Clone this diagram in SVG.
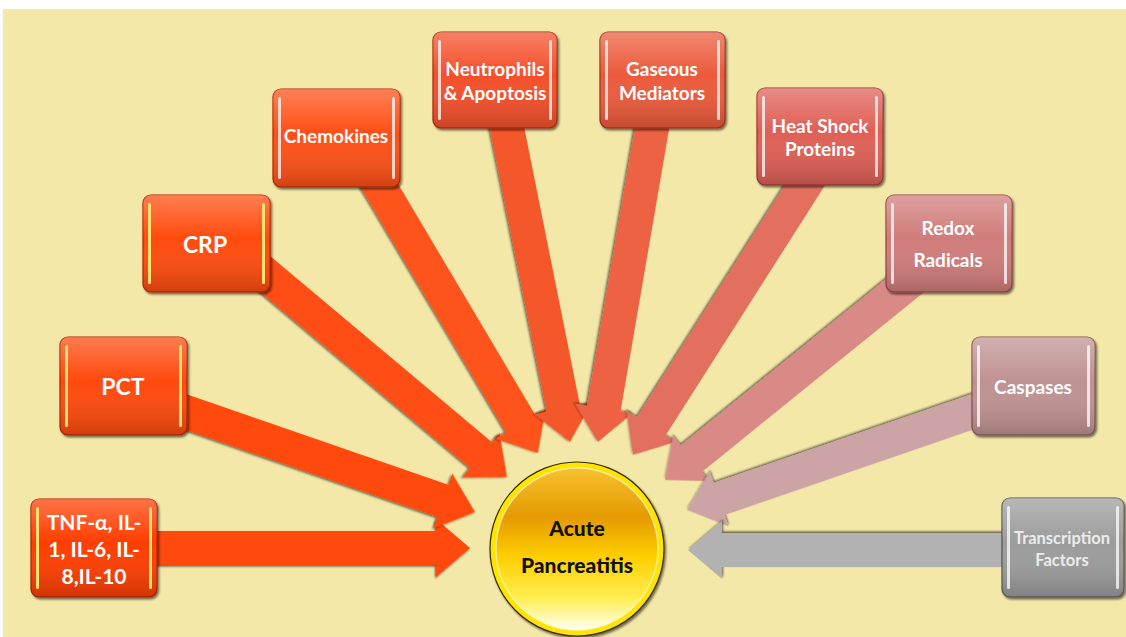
<svg xmlns="http://www.w3.org/2000/svg" width="1126" height="637" viewBox="0 0 1126 637">
<defs>
<style>
.lbl{font-family:Lato,"Open Sans","Liberation Sans",sans-serif;font-weight:bold;fill:#fff;text-anchor:middle}
.ctr{font-family:Lato,"Open Sans","Liberation Sans",sans-serif;font-weight:900;fill:#111;text-anchor:middle;font-size:21px}
.box{stroke-width:1.2}
.gloss{fill:url(#gloss)}
.hl{fill:#fff;opacity:.75}
.arr{filter:url(#ash)}
</style>
<linearGradient id="gloss" x1="0" y1="0" x2="0" y2="1">
<stop offset="0" stop-color="#fff" stop-opacity=".28"/>
<stop offset=".45" stop-color="#fff" stop-opacity="0"/>
<stop offset="1" stop-color="#000" stop-opacity=".18"/>
</linearGradient>
<linearGradient id="ball" x1="0" y1="0" x2="0" y2="1">
<stop offset="0" stop-color="#F7C230"/>
<stop offset=".3" stop-color="#E49A00"/>
<stop offset=".55" stop-color="#FFCF00"/>
<stop offset=".8" stop-color="#FFEE50"/>
<stop offset="1" stop-color="#FFFFF2"/>
</linearGradient>
<filter id="sh" x="-10%" y="-10%" width="125%" height="125%">
<feDropShadow dx="1.5" dy="2" stdDeviation="1.2" flood-color="#000" flood-opacity=".55"/>
</filter>
<filter id="ash" x="-10%" y="-10%" width="125%" height="125%">
<feDropShadow dx="-1" dy="1.5" stdDeviation=".8" flood-color="#000" flood-opacity=".6"/>
</filter>
</defs>
<rect x="0" y="0" width="1126" height="637" fill="#fff"/>
<rect x="3" y="9" width="1123" height="628" fill="#F4E8A9"/>

<g id="connectors">
<path class="arr" fill="#FF4A10" transform="translate(470,548) rotate(0)" d="M0,0 L-34,-29 L-34,-17 L-320,-17 L-320,17 L-34,17 L-34,29 Z"/>
<path class="arr" fill="#FF4A10" transform="translate(475,512) rotate(19.08)" d="M0,0 L-34,-29 L-34,-17 L-320,-17 L-320,17 L-34,17 L-34,29 Z"/>
<path class="arr" fill="#FF4E14" transform="translate(507,477) rotate(40)" d="M0,0 L-34,-29 L-34,-17 L-330,-17 L-330,17 L-34,17 L-34,29 Z"/>
<path class="arr" fill="#FF521A" transform="translate(538,453) rotate(59.3)" d="M0,0 L-34,-29 L-34,-17 L-330,-17 L-330,17 L-34,17 L-34,29 Z"/>
<path class="arr" fill="#F4582C" transform="translate(570,442) rotate(78.65)" d="M0,0 L-34,-29 L-34,-17 L-334,-17 L-334,17 L-34,17 L-34,29 Z"/>
<path class="arr" fill="#EC6242" transform="translate(598,442) rotate(99.76)" d="M0,0 L-34,-29 L-34,-17 L-332,-17 L-332,17 L-34,17 L-34,29 Z"/>
<path class="arr" fill="#E3705E" transform="translate(633,455) rotate(122.5)" d="M0,0 L-34,-29 L-34,-17 L-338,-17 L-338,17 L-34,17 L-34,29 Z"/>
<path class="arr" fill="#DA8A86" transform="translate(665,480) rotate(141)" d="M0,0 L-34,-29 L-34,-17 L-330,-17 L-330,17 L-34,17 L-34,29 Z"/>
<path class="arr" fill="#CCA4A6" transform="translate(687,510) rotate(161.03)" d="M0,0 L-34,-29 L-34,-17 L-330,-17 L-330,17 L-34,17 L-34,29 Z"/>
<path class="arr" fill="#B2B2B2" transform="translate(688,550) rotate(180)" d="M0,0 L-34,-29 L-34,-17 L-322,-17 L-322,17 L-34,17 L-34,29 Z"/>
</g>

<g id="n-tnf">
<rect class="box" x="31" y="499" width="126" height="98" rx="8" fill="#FF3C04" stroke="#B02000" filter="url(#sh)"/>
<rect class="gloss" x="31" y="499" width="126" height="98" rx="8"/>
<rect x="36" y="507" width="3" height="82" rx="1.5" fill="#FFE070"/>
<rect x="149" y="507" width="3" height="82" rx="1.5" fill="#FFE070"/>
<text class="lbl" font-size="21"><tspan x="94" y="530">TNF-α, IL-</tspan><tspan x="94" y="557">1, IL-6, IL-</tspan><tspan x="94" y="584">8,IL-10</tspan></text>
</g>

<g id="n-pct">
<rect class="box" x="60" y="337" width="127" height="98" rx="8" fill="#FF4808" stroke="#B02400" filter="url(#sh)"/>
<rect class="gloss" x="60" y="337" width="127" height="98" rx="8"/>
<rect x="65" y="345" width="3" height="82" rx="1.5" fill="#FFE070"/>
<rect x="179" y="345" width="3" height="82" rx="1.5" fill="#FFE070"/>
<text class="lbl" font-size="23" x="123" y="395">PCT</text>
</g>

<g id="n-crp">
<rect class="box" x="143" y="195" width="127" height="97" rx="8" fill="#FF4C0C" stroke="#B02600" filter="url(#sh)"/>
<rect class="gloss" x="143" y="195" width="127" height="97" rx="8"/>
<rect x="148" y="203" width="3" height="81" rx="1.5" fill="#FFE070"/>
<rect x="262" y="203" width="3" height="81" rx="1.5" fill="#FFE070"/>
<text class="lbl" font-size="23" x="205" y="253">CRP</text>
</g>

<g id="n-chemokines">
<rect class="box" x="273" y="89" width="127" height="98" rx="8" fill="#FF5014" stroke="#B02A00" filter="url(#sh)"/>
<rect class="gloss" x="273" y="89" width="127" height="98" rx="8"/>
<rect x="278" y="97" width="3" height="82" rx="1.5" class="hl"/>
<rect x="392" y="97" width="3" height="82" rx="1.5" class="hl"/>
<text class="lbl" font-size="19" x="336" y="143">Chemokines</text>
</g>

<g id="n-neutrophils">
<rect class="box" x="433" y="32" width="124" height="96" rx="8" fill="#F5502A" stroke="#A82A10" filter="url(#sh)"/>
<rect class="gloss" x="433" y="32" width="124" height="96" rx="8"/>
<rect x="438" y="40" width="3" height="80" rx="1.5" class="hl"/>
<rect x="549" y="40" width="3" height="80" rx="1.5" class="hl"/>
<text class="lbl" font-size="19"><tspan x="495" y="76">Neutrophils</tspan><tspan x="495" y="100">&amp; Apoptosis</tspan></text>
</g>

<g id="n-gaseous">
<rect class="box" x="600" y="32" width="125" height="96" rx="8" fill="#EC5A3A" stroke="#A0301C" filter="url(#sh)"/>
<rect class="gloss" x="600" y="32" width="125" height="96" rx="8"/>
<rect x="605" y="40" width="3" height="80" rx="1.5" class="hl"/>
<rect x="717" y="40" width="3" height="80" rx="1.5" class="hl"/>
<text class="lbl" font-size="19"><tspan x="662" y="76">Gaseous</tspan><tspan x="662" y="100">Mediators</tspan></text>
</g>

<g id="n-heatshock">
<rect class="box" x="757" y="88" width="126" height="97" rx="8" fill="#DF5E54" stroke="#98342E" filter="url(#sh)"/>
<rect class="gloss" x="757" y="88" width="126" height="97" rx="8"/>
<rect x="762" y="96" width="3" height="81" rx="1.5" class="hl"/>
<rect x="875" y="96" width="3" height="81" rx="1.5" class="hl"/>
<text class="lbl" font-size="19"><tspan x="820" y="133">Heat Shock</tspan><tspan x="820" y="156">Proteins</tspan></text>
</g>

<g id="n-redox">
<rect class="box" x="886" y="195" width="126" height="97" rx="8" fill="#D07C7A" stroke="#8E4442" filter="url(#sh)"/>
<rect class="gloss" x="886" y="195" width="126" height="97" rx="8"/>
<rect x="891" y="203" width="3" height="81" rx="1.5" class="hl"/>
<rect x="1004" y="203" width="3" height="81" rx="1.5" class="hl"/>
<text class="lbl" font-size="19"><tspan x="948" y="235">Redox</tspan><tspan x="948" y="267">Radicals</tspan></text>
</g>

<g id="n-caspases">
<rect class="box" x="972" y="337" width="123" height="98" rx="8" fill="#C09292" stroke="#7E5454" filter="url(#sh)"/>
<rect class="gloss" x="972" y="337" width="123" height="98" rx="8"/>
<rect x="977" y="345" width="3" height="82" rx="1.5" class="hl"/>
<rect x="1087" y="345" width="3" height="82" rx="1.5" class="hl"/>
<text class="lbl" font-size="19" x="1033" y="394">Caspases</text>
</g>

<g id="n-transcription">
<rect class="box" x="1002" y="498" width="122" height="99" rx="8" fill="#9C9C9C" stroke="#555" filter="url(#sh)"/>
<rect class="gloss" x="1002" y="498" width="122" height="99" rx="8"/>
<rect x="1007" y="506" width="3" height="83" rx="1.5" class="hl"/>
<rect x="1116" y="506" width="3" height="83" rx="1.5" class="hl"/>
<text class="lbl" font-size="16.5" style="fill:#ECECEC"><tspan x="1062" y="544">Transcription</tspan><tspan x="1062" y="566">Factors</tspan></text>
</g>

<g id="n-acute">
<circle cx="577" cy="549" r="87" fill="#FFE400" stroke="#3a2a00" stroke-width="1.2" filter="url(#sh)"/>
<circle cx="577" cy="549" r="81" fill="url(#ball)"/>
<circle cx="577" cy="549" r="81" fill="none" stroke="#fff" stroke-opacity=".55" stroke-width="1.5"/>
<text class="ctr"><tspan x="577" y="536">Acute</tspan><tspan x="577" y="573">Pancreatitis</tspan></text>
</g>
</svg>
